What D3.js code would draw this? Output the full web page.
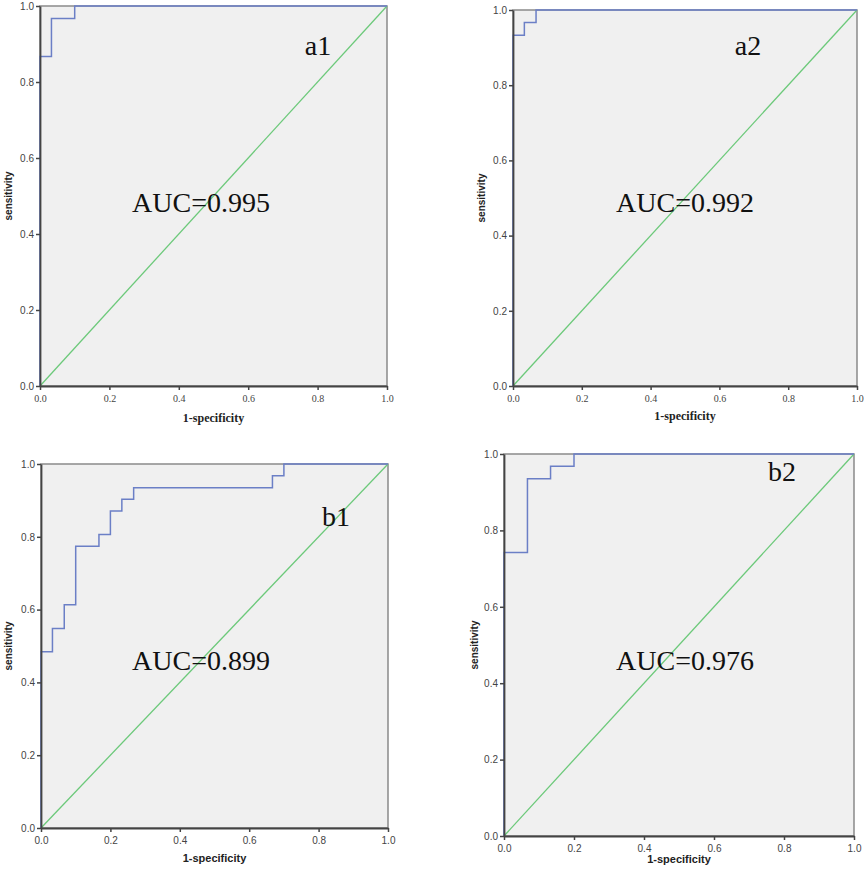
<!DOCTYPE html>
<html>
<head>
<meta charset="utf-8">
<script src="https://cdn.jsdelivr.net/npm/d3@7"></script>
<style>
  body { margin: 0; background: #fff; }
  svg { display: block; }
</style>
</head>
<body>
<div id="chart"></div>
<script>
// ROC points: 1-specificity (fpr) and sensitivity (tpr)
const a1_fpr = [0, 0, 0.033, 0.1, 1]
const a1_tpr = [0, 0.867, 0.967, 1, 1]
const a2_fpr = [0, 0, 0.033, 0.067, 1]
const a2_tpr = [0, 0.933, 0.967, 1, 1]
const b1_fpr = [0, 0, 0.033, 0.067, 0.1, 0.167, 0.2, 0.233, 0.267, 0.667, 0.7, 1]
const b1_tpr = [0, 0.484, 0.548, 0.613, 0.774, 0.806, 0.871, 0.903, 0.935, 0.968, 1, 1]
const b2_fpr = [0, 0, 0.067, 0.133, 0.2, 1]
const b2_tpr = [0, 0.742, 0.935, 0.968, 1, 1]

const panel_names = ["a1", "a2", "b1", "b2"]
const auc_labels = ["AUC=0.995", "AUC=0.992", "AUC=0.899", "AUC=0.976"]
const tick_values = [0, 0.2, 0.4, 0.6, 0.8, 1.0]
const x_title = "1-specificity"
const y_title = "sensitivity"

const width = 865
const height = 881

const svg = d3.select("#chart").append("svg")
    .attr("width", width)
    .attr("height", height)

const serif = "'Liberation Serif', 'Times New Roman', serif"
const sans = "'Liberation Sans', Arial, sans-serif"

// box of each panel + where the labels sit
const layout = [
    {x0: 40, x1: 387, y0: 6, y1: 386, name: [318, 55], auc: [201, 212], tickFont: serif, titleFont: serif, xt: 424, yt: 8},
    {x0: 513, x1: 857, y0: 10, y1: 386, name: [748, 55], auc: [685, 212], tickFont: serif, titleFont: serif, xt: 422, yt: 481},
    {x0: 41, x1: 388, y0: 464, y1: 828, name: [336, 526], auc: [201, 670], tickFont: sans, titleFont: sans, xt: 864, yt: 8},
    {x0: 504, x1: 854, y0: 454, y1: 836, name: [782, 481], auc: [685, 670], tickFont: sans, titleFont: sans, xt: 865, yt: 474},
]

const series = [
    {fpr: a1_fpr, tpr: a1_tpr},
    {fpr: a2_fpr, tpr: a2_tpr},
    {fpr: b1_fpr, tpr: b1_tpr},
    {fpr: b2_fpr, tpr: b2_tpr},
]

layout.forEach((p, i) => {
    const x = d3.scaleLinear().domain([0, 1]).range([p.x0, p.x1])
    const y = d3.scaleLinear().domain([0, 1]).range([p.y1, p.y0])
    const g = svg.append("g")

    // plot background and frame
    g.append("rect")
        .attr("x", x(0)).attr("y", y(1))
        .attr("width", x(1) - x(0)).attr("height", y(0) - y(1))
        .attr("fill", "#f0f0f0")
        .attr("stroke", "#8a8a8a")
        .attr("stroke-width", 1.5)

    // reference diagonal
    g.append("line")
        .attr("x1", x(0)).attr("y1", y(0))
        .attr("x2", x(1)).attr("y2", y(1))
        .attr("stroke", "#6cc97a")
        .attr("stroke-width", 1.3)

    // roc curve
    const pts = series[i].fpr.map((f, k) => [f, series[i].tpr[k]])
    const line = d3.line()
        .x(d => x(d[0]))
        .y(d => y(d[1]))
        .curve(d3.curveStepAfter)
    g.append("path")
        .attr("d", line(pts))
        .attr("fill", "none")
        .attr("stroke", "#6b7fc6")
        .attr("stroke-width", 1.5)

    // axes
    const xAxis = g.append("g")
        .attr("transform", `translate(0,${y(0)})`)
        .call(d3.axisBottom(x).tickValues(tick_values).tickFormat(d3.format(".1f")).tickSize(4).tickSizeOuter(0))
    const yAxis = g.append("g")
        .attr("transform", `translate(${x(0)},0)`)
        .call(d3.axisLeft(y).tickValues(tick_values).tickFormat(d3.format(".1f")).tickSize(4).tickSizeOuter(0))

    ;[xAxis, yAxis].forEach(a => {
        a.select(".domain").attr("stroke", "#444").attr("stroke-width", 1.8)
        a.selectAll(".tick line").attr("stroke", "#444").attr("stroke-width", 1.5)
        a.selectAll(".tick text").attr("fill", "#444").attr("font-size", 10)
    })
    xAxis.selectAll(".tick text").attr("font-family", p.tickFont).attr("dy", "0.9em")
    yAxis.selectAll(".tick text").attr("font-family", sans).attr("dx", "0.1em")

    // axis titles
    g.append("text")
        .attr("x", (p.x0 + p.x1) / 2)
        .attr("y", p.xt - 2)
        .attr("text-anchor", "middle")
        .attr("font-family", p.titleFont)
        .attr("font-weight", "bold")
        .attr("font-size", p.titleFont === serif ? 12 : 11)
        .attr("fill", "#222")
        .text(x_title)
    g.append("text")
        .attr("transform", `translate(${p.yt + 4},${(p.y0 + p.y1) / 2}) rotate(-90)`)
        .attr("text-anchor", "middle")
        .attr("font-family", sans)
        .attr("font-weight", "bold")
        .attr("font-size", 10)
        .attr("fill", "#222")
        .text(y_title)

    // panel tag and AUC
    g.append("text")
        .attr("x", p.name[0]).attr("y", p.name[1])
        .attr("text-anchor", "middle")
        .attr("font-family", serif)
        .attr("font-size", 28)
        .attr("fill", "#111")
        .text(panel_names[i])
    g.append("text")
        .attr("x", p.auc[0]).attr("y", p.auc[1])
        .attr("text-anchor", "middle")
        .attr("font-family", serif)
        .attr("font-size", 28)
        .attr("fill", "#111")
        .text(auc_labels[i])
})
</script>
</body>
</html>
